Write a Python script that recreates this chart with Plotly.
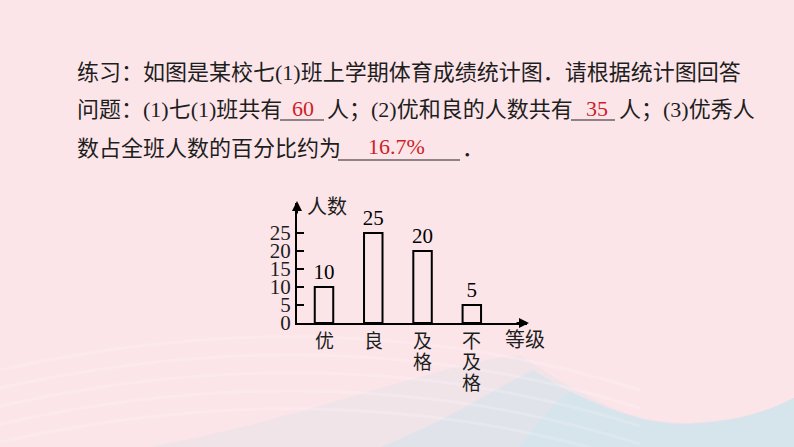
import plotly.graph_objects as go

# ---- data ----
categories = ["优", "良", "及格", "不及格"]
counts = [10, 25, 20, 5]
y_ticks = [0, 5, 10, 15, 20, 25]
y_axis_title = "人数"
x_axis_title = "等级"

line1 = "练习：如图是某校七(1)班上学期体育成绩统计图．请根据统计图回答"
line2_parts = ["问题：(1)七(1)班共有", "人；(2)优和良的人数共有", "人；(3)优秀人"]
line3_parts = ["数占全班人数的百分比约为", "．"]
answers = ["60", "35", "16.7%"]

W, H = 794, 447
SERIF = "Liberation Serif, Noto Sans CJK SC"
CJK = "Noto Sans CJK SC"
RED = "#cc1f28"
BG = "#fce5e9"


def px(x):
    return x / W


def py(y):
    return 1 - y / H


def P(x, y):
    return f"{px(x):.4f},{py(y):.4f}"


fig = go.Figure()

fig.add_trace(go.Bar(
    x=categories, y=counts, width=0.375,
    marker=dict(color="rgba(0,0,0,0)", line=dict(color="black", width=2)),
    text=[str(v) for v in counts], textposition="outside",
    textfont=dict(family=SERIF, size=21, color="black"),
    constraintext="none", cliponaxis=False, hoverinfo="skip",
))

annotations = []

def txt(x, y, s, anchor="left", color="#1e1e1e", size=22):
    annotations.append(dict(
        x=px(x), y=py(y), xref="paper", yref="paper", text=s, showarrow=False,
        xanchor=anchor, yanchor="middle", font=dict(family=SERIF, size=size, color=color),
    ))

txt(75, 72, line1)
txt(75, 110, line2_parts[0])
txt(325, 110, line2_parts[1])
txt(617, 110, line2_parts[2])
txt(303, 108, answers[0], anchor="center", color=RED)
txt(597, 108, answers[1], anchor="center", color=RED)
txt(75, 148, line3_parts[0])
txt(396, 146, answers[2], anchor="center", color=RED)
txt(460, 148, line3_parts[1])

shapes = []
for x0, x1, y in [(280, 324, 120), (571, 615, 120), (338, 460, 160)]:
    shapes.append(dict(type="line", xref="paper", yref="paper", x0=px(x0), x1=px(x1),
                       y0=py(y), y1=py(y), line=dict(color="#222", width=1.2)))

# background waves
waves = [
    ("M" + P(150, 447) + " C" + P(300, 420) + " " + P(450, 360) + " " + P(520, 355)
     + " C" + P(580, 395) + " " + P(640, 428) + " " + P(690, 426)
     + " C" + P(740, 424) + " " + P(770, 412) + " " + P(794, 398)
     + " L" + P(794, 447) + " Z", "#d6e2ec", 0.3),
    ("M" + P(380, 447) + " C" + P(450, 420) + " " + P(500, 385) + " " + P(533, 370)
     + " C" + P(580, 400) + " " + P(640, 425) + " " + P(690, 423)
     + " C" + P(740, 421) + " " + P(770, 410) + " " + P(794, 398)
     + " L" + P(794, 447) + " Z", "#d3e2ec", 0.55),
    ("M" + P(520, 447) + " C" + P(540, 420) + " " + P(560, 395) + " " + P(570, 392)
     + " C" + P(610, 412) + " " + P(650, 426) + " " + P(690, 424)
     + " C" + P(740, 422) + " " + P(770, 410) + " " + P(794, 398)
     + " L" + P(794, 447) + " Z", "#d3e3eb", 0.8),
]
for path, col, op in waves:
    shapes.append(dict(type="path", xref="paper", yref="paper", path=path,
                       fillcolor=col, opacity=op, line=dict(width=0), layer="below"))
for k in range(5):
    yy = 330 + k * 18
    path = ("M" + P(0, yy + 40) + " C" + P(200, yy - 5) + " " + P(420, yy - 10) + " " + P(640, yy + 60))
    shapes.append(dict(type="path", xref="paper", yref="paper", path=path,
                       line=dict(color="white", width=3), opacity=0.18, layer="below"))

# axis arrows
annotations.append(dict(x=px(529), y=py(323), xref="paper", yref="paper", text="",
                        showarrow=True, ax=-14, ay=0, arrowhead=2, arrowsize=1,
                        arrowwidth=2, arrowcolor="black"))
annotations.append(dict(x=px(297), y=py(201), xref="paper", yref="paper", text="",
                        showarrow=True, ax=0, ay=14, arrowhead=2, arrowsize=1,
                        arrowwidth=2, arrowcolor="black"))

# axis titles
annotations.append(dict(x=px(327), y=py(205), xref="paper", yref="paper", text=y_axis_title,
                        showarrow=False, yanchor="middle",
                        font=dict(family=CJK, size=20, color="#1e1e1e")))
annotations.append(dict(x=px(525), y=py(338), xref="paper", yref="paper", text=x_axis_title,
                        showarrow=False, yanchor="middle",
                        font=dict(family=CJK, size=20, color="#1e1e1e")))

# category labels, stacked vertically
for c in categories:
    for j, ch in enumerate(c):
        annotations.append(dict(x=c, y=0, xref="x", yref="y", text=ch, showarrow=False,
                                yanchor="middle", yshift=-(16 + 21 * j),
                                font=dict(family=CJK, size=19, color="#1e1e1e")))

fig.update_layout(
    width=W, height=H, autosize=False,
    margin=dict(l=0, r=0, t=0, b=0, pad=0, autoexpand=False),
    paper_bgcolor=BG, plot_bgcolor="rgba(0,0,0,0)",
    showlegend=False, hovermode=False,
    annotations=annotations, shapes=shapes,
    xaxis=dict(type="category", categoryorder="array", categoryarray=categories,
               range=[-0.548, 4.12], domain=[px(297), px(527)], automargin=False,
               showline=True, linecolor="black", linewidth=2,
               showticklabels=False, ticks="", showgrid=False, zeroline=False),
    yaxis=dict(range=[0, 33.3], domain=[py(323), py(203)], automargin=False,
               showline=True, linecolor="black", linewidth=2,
               tickvals=y_ticks, ticks="inside", ticklen=7, tickwidth=2, tickcolor="black",
               tickfont=dict(family=SERIF, size=21, color="#1e1e1e"),
               showgrid=False, zeroline=False),
)

fig.write_html(
    "out.html",
    config={"responsive": False, "displayModeBar": False, "staticPlot": True},
    post_script="document.body.style.margin='0';document.body.style.overflow='hidden';",
)
